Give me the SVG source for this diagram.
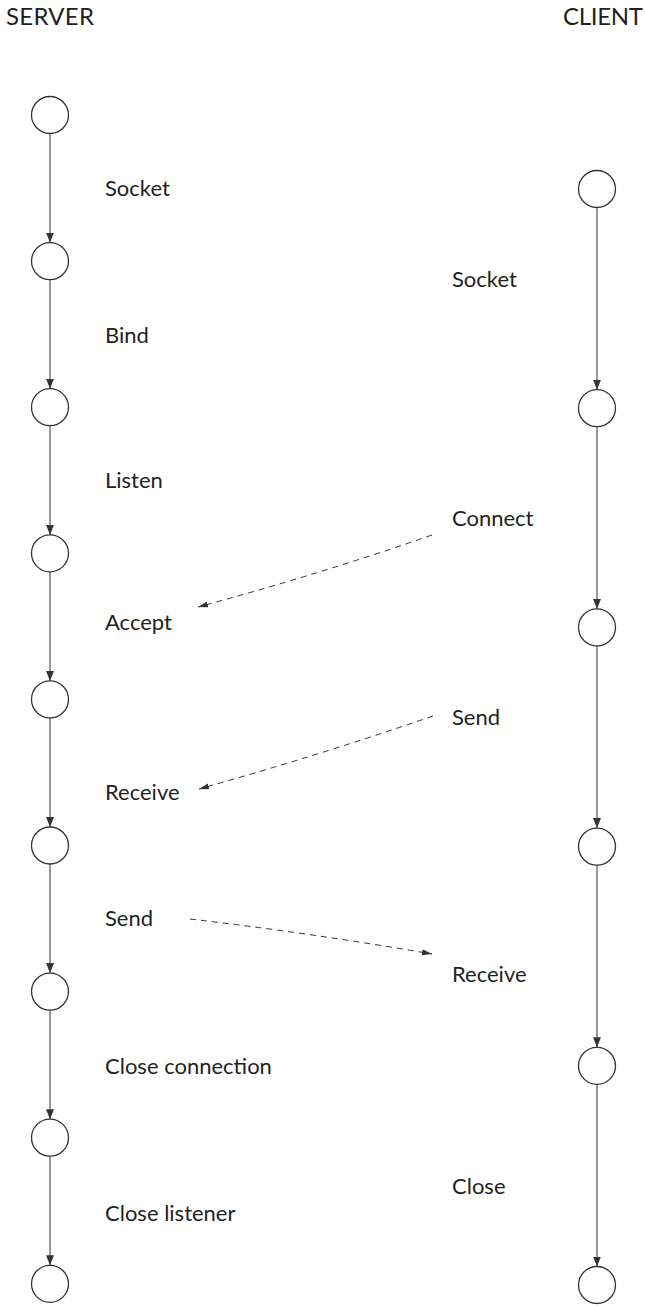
<svg xmlns="http://www.w3.org/2000/svg" width="645" height="1306" viewBox="0 0 645 1306">
  <style>
    .state { fill: #ffffff; stroke: #333333; stroke-width: 1.3; }
    .flow { fill: none; stroke: #333333; stroke-width: 1; marker-end: url(#arrow); }
    .msg { fill: none; stroke: #333333; stroke-width: 1; stroke-dasharray: 6 5; marker-end: url(#arrow-small); }
    .title { font-family: "Lato", "Open Sans", sans-serif; font-size: 24px; fill: #231f20; }
    .label { font-family: "Lato", "Open Sans", sans-serif; font-size: 22px; fill: #231f20; }
  </style>
  <defs>
    <marker id="arrow" viewBox="0 0 10 8" refX="10" refY="4" markerWidth="10" markerHeight="8" markerUnits="userSpaceOnUse" orient="auto">
      <path d="M0,0 L10,4 L0,8 Z" fill="#333333"/>
    </marker>
    <marker id="arrow-small" viewBox="0 0 10 6" refX="10" refY="3" markerWidth="10" markerHeight="6" markerUnits="userSpaceOnUse" orient="auto">
      <path d="M0,0 L10,3 L0,6 Z" fill="#333333"/>
    </marker>
  </defs>

  <!-- column headings -->
  <g id="heading-server"><text class="title" x="6" y="25" textLength="88">SERVER</text></g>
  <g id="heading-client"><text class="title" x="563" y="25" textLength="80">CLIENT</text></g>

  <!-- lifeline connectors -->
  <g id="connectors">
    <!-- server column -->
    <line class="flow" x1="50" y1="133.5" x2="50" y2="242.6"/>
    <line class="flow" x1="50" y1="279.6" x2="50" y2="388.7"/>
    <line class="flow" x1="50" y1="425.7" x2="50" y2="534.8"/>
    <line class="flow" x1="50" y1="571.8" x2="50" y2="680.9"/>
    <line class="flow" x1="50" y1="717.9" x2="50" y2="827"/>
    <line class="flow" x1="50" y1="864" x2="50" y2="973.1"/>
    <line class="flow" x1="50" y1="1010.1" x2="50" y2="1119.2"/>
    <line class="flow" x1="50" y1="1156.2" x2="50" y2="1265.3"/>
    <!-- client column -->
    <line class="flow" x1="597" y1="207.5" x2="597" y2="389.7"/>
    <line class="flow" x1="597" y1="426.7" x2="597" y2="608.9"/>
    <line class="flow" x1="597" y1="645.9" x2="597" y2="828.1"/>
    <line class="flow" x1="597" y1="865.1" x2="597" y2="1047.3"/>
    <line class="flow" x1="597" y1="1084.3" x2="597" y2="1266.5"/>
    <!-- messages between the two sides -->
    <path class="msg" d="M432,535 Q320,574 198,607"/>
    <path class="msg" d="M433,716 Q320,755 199,789"/>
    <path class="msg" d="M190,919 Q310,933 432,954"/>
  </g>

  <!-- server states -->
  <g id="server-s0"><circle class="state" cx="50" cy="115" r="18.5"/></g>
  <g id="server-s1"><circle class="state" cx="50" cy="261.1" r="18.5"/></g>
  <g id="server-s2"><circle class="state" cx="50" cy="407.2" r="18.5"/></g>
  <g id="server-s3"><circle class="state" cx="50" cy="553.3" r="18.5"/></g>
  <g id="server-s4"><circle class="state" cx="50" cy="699.4" r="18.5"/></g>
  <g id="server-s5"><circle class="state" cx="50" cy="845.5" r="18.5"/></g>
  <g id="server-s6"><circle class="state" cx="50" cy="991.6" r="18.5"/></g>
  <g id="server-s7"><circle class="state" cx="50" cy="1137.7" r="18.5"/></g>
  <g id="server-s8"><circle class="state" cx="50" cy="1283.8" r="18.5"/></g>

  <!-- client states -->
  <g id="client-s0"><circle class="state" cx="597" cy="189" r="18.5"/></g>
  <g id="client-s1"><circle class="state" cx="597" cy="408.2" r="18.5"/></g>
  <g id="client-s2"><circle class="state" cx="597" cy="627.4" r="18.5"/></g>
  <g id="client-s3"><circle class="state" cx="597" cy="846.6" r="18.5"/></g>
  <g id="client-s4"><circle class="state" cx="597" cy="1065.8" r="18.5"/></g>
  <g id="client-s5"><circle class="state" cx="597" cy="1285" r="18.5"/></g>

  <!-- server step labels -->
  <g id="server-labels">
    <text class="label" x="105" y="196">Socket</text>
    <text class="label" x="105" y="343">Bind</text>
    <text class="label" x="105" y="488">Listen</text>
    <text class="label" x="105" y="630">Accept</text>
    <text class="label" x="105" y="800">Receive</text>
    <text class="label" x="105" y="926">Send</text>
    <text class="label" x="105" y="1074">Close connection</text>
    <text class="label" x="105" y="1221">Close listener</text>
  </g>

  <!-- client step labels -->
  <g id="client-labels">
    <text class="label" x="452" y="287">Socket</text>
    <text class="label" x="452" y="526">Connect</text>
    <text class="label" x="452" y="725">Send</text>
    <text class="label" x="452" y="982">Receive</text>
    <text class="label" x="452" y="1194">Close</text>
  </g>
</svg>
